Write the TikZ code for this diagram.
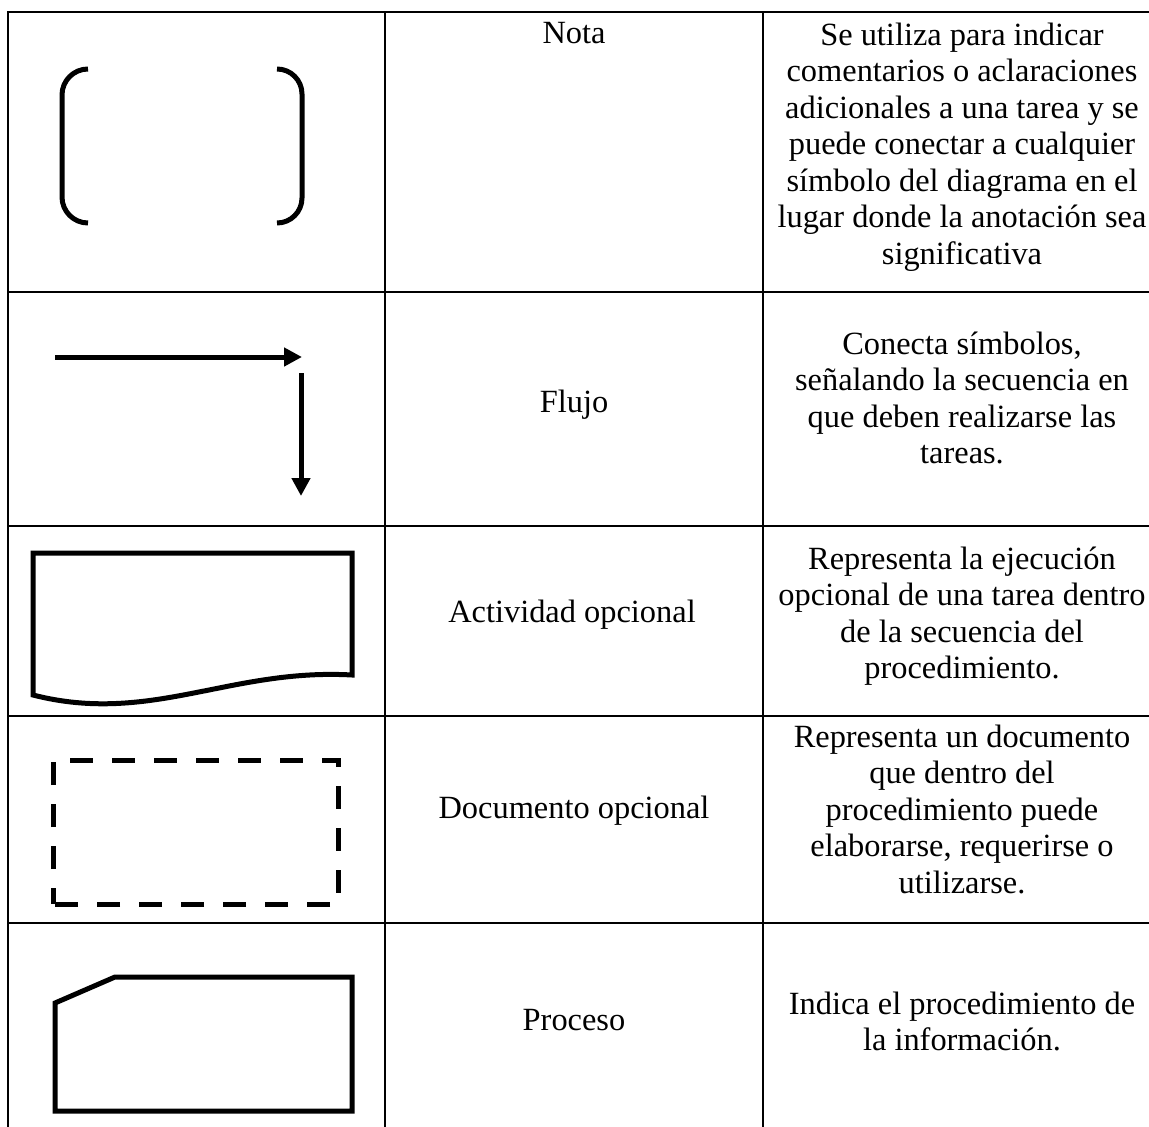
\documentclass[tikz,border=0pt]{standalone}
\usepackage{fontspec}
\setmainfont{Liberation Serif}
\usetikzlibrary{arrows.meta}
\newcommand\cellfont{\fontsize{32.4}{36.6}\selectfont}
\newcommand\celltext[1]{\begin{tabular}[t]{@{}c@{}}#1\end{tabular}}

\begin{document}
\begin{tikzpicture}[x=1pt,y=-1pt,
  tableline/.style={line width=1.3pt},
  symbolline/.style={line width=5pt, line join=miter},
  celllabel/.style={anchor=base, inner sep=0pt, font=\cellfont},
  flowarrow/.style={line width=5pt, -{Triangle[length=18pt,width=18pt]}},
]
\useasboundingbox (0,0) rectangle (1149,1127);
\fill[white] (0,0) rectangle (1149,1127);

% table rules (the table runs past the right and bottom edges)
\begin{scope}
  \clip (0,0) rectangle (1149,1127);
  \draw[tableline] (8,1140) -- (8,12) -- (1160,12);
  \foreach \x in {385,763} \draw[tableline] (\x,12) -- (\x,1140);
  \foreach \y in {292,526,716,923} \draw[tableline] (8,\y) -- (1160,\y);
\end{scope}

% Nota: a pair of round brackets
\draw[symbolline, rounded corners=26pt] (88,69) -- (62,69) -- (62,223) -- (88,223);
\draw[symbolline, rounded corners=25pt] (277,69) -- (302,69) -- (302,223) -- (277,223);

% Flujo: two arrows
\coordinate (hstart) at (55,357);
\coordinate (hend) at (302,357);
\coordinate (vstart) at (301,373);
\coordinate (vend) at (301,496);
\draw[flowarrow] (hstart) -- (hend);
\draw[flowarrow] (vstart) -- (vend);

% Actividad opcional: box with a wavy bottom edge
\draw[symbolline] (33,695) -- (33,553) -- (352,553) -- (352,675)
  .. controls (230,668) and (150,725) .. (33,695) -- cycle;

% Documento opcional: dashed box
\draw[symbolline, dash pattern=on 23pt off 19pt, dash phase=7pt]
  (53,904) -- (53,760) -- (338,760) -- (338,904) -- cycle;

% Proceso: box with a cut top-left corner
\draw[symbolline] (55,1003) -- (115,977) -- (352,977) -- (352,1111) -- (55,1111) -- cycle;

% names
\node[celllabel] (nota) at (574,43) {\celltext{Nota}};
\node[celllabel] (flujo) at (574,412) {\celltext{Flujo}};
\node[celllabel] (actividad) at (572,622) {\celltext{Actividad opcional}};
\node[celllabel] (documento) at (574,818) {\celltext{Documento opcional}};
\node[celllabel] (proceso) at (574,1030) {\celltext{Proceso}};

% descriptions
\node[celllabel] (notadesc) at (962,45) {\celltext{Se utiliza para indicar\\comentarios o aclaraciones\\adicionales a una tarea y se\\puede conectar a cualquier\\símbolo del diagrama en el\\lugar donde la anotación sea\\significativa}};
\node[celllabel] (flujodesc) at (962,354) {\celltext{Conecta símbolos,\\señalando la secuencia en\\que deben realizarse las\\tareas.}};
\node[celllabel] (actividaddesc) at (962,569) {\celltext{Representa la ejecución\\opcional de una tarea dentro\\de la secuencia del\\procedimiento.}};
\node[celllabel] (documentodesc) at (962,747) {\celltext{Representa un documento\\que dentro del\\procedimiento puede\\elaborarse, requerirse o\\utilizarse.}};
\node[celllabel] (procesodesc) at (962,1014) {\celltext{Indica el procedimiento de\\la información.}};
\end{tikzpicture}
\end{document}
